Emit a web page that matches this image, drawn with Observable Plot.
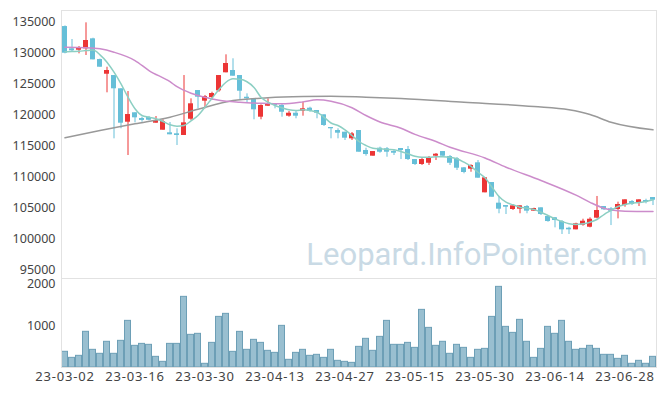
<!DOCTYPE html>
<html><head><meta charset="utf-8">
<script src="https://cdn.jsdelivr.net/npm/d3@7"></script>
<script src="https://cdn.jsdelivr.net/npm/@observablehq/plot@0.6"></script>
<style>
body{margin:0;background:#fff;}
#chart{position:relative;width:665px;height:396px;background:#fff;}
#chart svg{display:block;}
</style></head><body><div id="chart"></div>
<script>
const dates = [
"2023-03-02","2023-03-03","2023-03-06","2023-03-07","2023-03-08","2023-03-09","2023-03-10","2023-03-13","2023-03-14","2023-03-15",
"2023-03-16","2023-03-17","2023-03-20","2023-03-21","2023-03-22","2023-03-23","2023-03-24","2023-03-27","2023-03-28","2023-03-29",
"2023-03-30","2023-03-31","2023-04-03","2023-04-04","2023-04-05","2023-04-06","2023-04-07","2023-04-10","2023-04-11","2023-04-12",
"2023-04-13","2023-04-14","2023-04-17","2023-04-18","2023-04-19","2023-04-20","2023-04-21","2023-04-24","2023-04-25","2023-04-26",
"2023-04-27","2023-04-28","2023-05-02","2023-05-03","2023-05-04","2023-05-08","2023-05-09","2023-05-10","2023-05-11","2023-05-12",
"2023-05-15","2023-05-16","2023-05-17","2023-05-18","2023-05-19","2023-05-22","2023-05-23","2023-05-24","2023-05-25","2023-05-26",
"2023-05-30","2023-05-31","2023-06-01","2023-06-02","2023-06-05","2023-06-07","2023-06-08","2023-06-09","2023-06-12","2023-06-13",
"2023-06-14","2023-06-15","2023-06-16","2023-06-19","2023-06-20","2023-06-21","2023-06-22","2023-06-23","2023-06-26","2023-06-27",
"2023-06-28","2023-06-29","2023-06-30","2023-07-03","2023-07-04"];
const opens = [134300,130710,130480,130710,132320,128980,126610,126400,124260,118870,
120390,119470,119630,118710,117580,117160,117000,116730,119350,123980,
122260,122850,123930,126840,127210,126400,122900,122640,119680,121450,
121840,121570,119840,120320,120640,121130,120760,120060,118010,117530,
117260,116190,117530,114310,113390,114680,114580,114140,114630,114470,
112850,112050,112250,113390,114140,113340,112970,111510,111290,112320,
107480,109140,105810,105430,104790,104840,105270,104520,105060,103660,
103450,102850,101770,101510,102260,101930,103390,105270,104900,104790,
105430,106080,105920,106240,106720];
const highs = [134400,132210,131080,134900,132420,129050,127740,126400,124260,123820,
120390,119680,119800,119790,119260,118820,117810,126400,122640,123980,
123180,123710,126400,129740,129100,126400,123450,122640,121680,122640,
121840,121840,120600,120600,122100,121290,120760,120060,118010,117810,
117260,117210,117530,114680,114140,114840,114790,114310,114630,114950,
112850,113010,113340,113820,114140,113500,113180,111560,112000,112690,
109900,109140,106890,105430,105550,105380,105430,105000,105060,103770,
103500,103010,101930,102580,103220,103450,106890,105270,105110,105970,
106350,106240,106350,106450,106720];
const lows = [129900,130270,129900,129630,128930,127740,123610,116190,117810,113500,
118770,118870,119100,118710,117580,116840,115110,116730,119150,121030,
121030,122370,123710,126840,126290,122370,122000,119260,119260,121400,
121030,119680,119680,119420,119840,120480,119420,118180,116190,116190,
115920,115920,114030,113390,113390,113870,113220,113500,112850,112690,
111890,111890,111890,112690,113340,111890,111080,110550,110800,109840,
107480,106770,104100,103980,104630,104100,104100,104470,103820,102740,
101830,100760,100760,101510,102100,101830,103280,104630,102200,103280,
105160,105430,105270,105700,105430];
const closes = [130000,130390,130800,132050,128930,127740,127210,124260,118710,120110,
119580,119150,119190,119100,118980,116840,116730,118770,121840,122900,
123010,123500,126400,128340,126290,123870,122640,120870,121570,121720,
121570,120480,120320,119840,121030,120640,120320,118340,117810,117100,
116290,116990,114030,113660,114140,114030,114030,113870,114310,112850,
112050,112850,113130,113710,113390,112250,111450,110760,111890,109840,
109900,106770,104840,105160,105380,105380,104520,104950,103980,102850,
103010,101510,101510,102480,102900,103220,104630,104740,104520,105600,
106350,105600,106350,105920,106290];
const volumes = [374,230,278,850,421,326,612,326,635,1111,
516,563,540,254,135,563,563,1683,778,802,
88,587,1206,1278,373,849,421,659,587,397,
349,992,183,349,421,278,302,230,421,159,
135,111,492,683,397,730,1111,540,540,587,
468,1373,944,516,612,326,540,468,230,421,
444,1206,1921,968,825,1135,612,230,444,968,
802,1111,612,421,444,516,444,302,302,206,
278,88,159,88,254];
// 5-day moving average (one value per day)
const ma5 = [130220,130280,130320,130420,130500,129740,128550,126940,125060,122900,
121030,119950,119680,119420,118980,118450,118230,118340,119100,119950,
121290,122740,124140,125320,125870,125800,125400,124480,122900,122100,
121570,121190,120870,120760,120870,120760,120480,119680,118740,118340,
117640,116730,115760,115110,114680,114580,114470,114420,114140,113770,
113390,113220,113220,113280,113300,113220,112970,112420,111730,110800,
109900,108390,106890,105970,105550,105160,105000,104790,104350,103820,
103280,102850,102480,102370,102480,102740,103180,103980,104630,105270,
105600,105810,105920,106080,106350];
// 20-day and 120-day moving averages: points [dayIndex, value]
const ma20Idx = [0,3,5,7,10,12,15,16,18,20,22,25,28,31,34,36,38,41,43,45,48,50,53,55,60,63,68,73,75,77,79,80,84];
const ma20Val = [130970,130900,130710,130160,128820,127210,125400,124600,123550,122900,122420,122100,121930,121840,122150,122480,122250,121200,119950,118900,117900,116900,115750,114840,113100,111610,109470,107100,105950,105000,104600,104520,104470];
const ma120Idx = [0,5,10,15,19,24,29,34,38,43,48,57,67,72,75,78,84];
const ma120Val = [116350,117530,118610,119680,120950,122370,122810,123010,123060,122900,122700,122100,121400,120870,120110,118870,117640];
const priceTicks = [95000,100000,105000,110000,115000,120000,125000,130000,135000];
const volumeTicks = [1000,2000];
const tickDates = dates.filter((d,i) => i % 10 === 0);

const UP = "#ec3535", DOWN = "#66bfd8";
const rows = dates.map((d,i) => ({date:d, open:opens[i], high:highs[i], low:lows[i], close:closes[i], volume:volumes[i]}));
const ma5Rows = dates.map((d,i) => ({date:d, v:ma5[i]}));
const ma20Rows = ma20Idx.map((k,j) => ({date:dates[k], v:ma20Val[j]}));
const ma120Rows = ma120Idx.map((k,j) => ({date:dates[k], v:ma120Val[j]}));
const priceGrid = tickDates.flatMap(d => priceTicks.map(p => ({date:d, v:p})));
const volGrid = tickDates.flatMap(d => volumeTicks.map(p => ({date:d, v:p})));
const col = d => d.close >= d.open ? UP : DOWN;

const FONT = "'Noto Sans', Roboto, sans-serif";
const topPlot = Plot.plot({
  width:665, height:278, marginLeft:61, marginRight:9, marginTop:10, marginBottom:0,
  style:{fontFamily:FONT, fontSize:"13px", color:"#444", background:"transparent", overflow:"visible"},
  x:{type:"band", domain:dates, padding:0, axis:null},
  y:{domain:[93660,136890]},
  marks:[
    Plot.dot(priceGrid, {x:"date", y:"v", symbol:"plus", r:1.7, fill:"#e2e2e2", stroke:null}),
    Plot.text(["Leopard.InfoPointer.com"], {frameAnchor:"bottom-right", textAnchor:"end", dx:-9, dy:-14, fontSize:31, fontFamily:"Roboto, 'Noto Sans', sans-serif", fill:"#c9dae5"}),
    Plot.ruleX(rows, {x:"date", y1:"low", y2:"high", stroke:col, strokeWidth:1}),
    Plot.barY(rows, {x:"date", y1:"open", y2:"close", fill:col, insetLeft:1, insetRight:1}),
    Plot.line(ma120Rows, {x:"date", y:"v", stroke:"#999999", strokeWidth:1.5, curve:"monotone-x"}),
    Plot.line(ma20Rows, {x:"date", y:"v", stroke:"#cc8ccb", strokeWidth:1.5, curve:"monotone-x"}),
    Plot.line(ma5Rows, {x:"date", y:"v", stroke:"#8ccfc3", strokeWidth:1.5, curve:"monotone-x"}),
    Plot.axisY(priceTicks, {tickSize:0, tickPadding:6, tickFormat:d => String(d), label:null, fontSize:12.5}),
    Plot.frame({stroke:"#e2e2e2"})
  ]
});
const bottomPlot = Plot.plot({
  width:665, height:118, marginLeft:61, marginRight:9, marginTop:0, marginBottom:29,
  style:{fontFamily:FONT, fontSize:"13px", color:"#444", background:"transparent", overflow:"visible"},
  x:{type:"band", domain:dates, padding:0},
  y:{domain:[0,2120]},
  marks:[
    Plot.dot(volGrid, {x:"date", y:"v", symbol:"plus", r:1.7, fill:"#e2e2e2", stroke:null}),
    Plot.barY(rows, {x:"date", y:"volume", fill:"#99bfd0", stroke:"#6d9fb6", strokeWidth:1, insetLeft:0.5, insetRight:0.5}),
    Plot.axisY(volumeTicks, {tickSize:0, tickPadding:6, tickFormat:d => String(d), label:null, fontSize:12.5}),
    Plot.axisX(tickDates, {tickSize:0, tickPadding:4, tickFormat:d => d.slice(2), label:null, fontSize:13}),
    Plot.frame({stroke:"#e2e2e2"})
  ]
});
bottomPlot.querySelectorAll('[aria-label="x-axis tick label"] text').forEach(t => t.style.letterSpacing = "0.8px");
const chart = document.getElementById("chart");
chart.appendChild(topPlot);
chart.appendChild(bottomPlot);
</script></body></html>
